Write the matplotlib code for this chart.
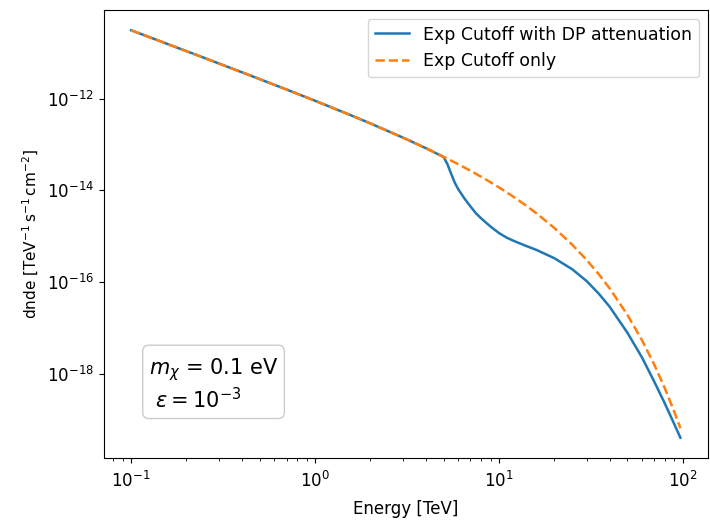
import numpy as np
import matplotlib
matplotlib.use("Agg")
import matplotlib.pyplot as plt
from matplotlib.ticker import LogLocator, NullLocator

# energies [TeV] and log10(dnde)
energy = [0.1, 0.15, 0.2, 0.3, 0.5, 0.7, 1, 1.5, 2, 3, 4, 5, 5.25, 5.5, 5.75, 6,
          6.5, 7, 7.5, 8, 9, 10, 11, 12, 14, 16, 20, 25, 30, 35, 40, 50, 60, 70,
          80, 90, 97]
log_cutoff = [-10.504, -10.771, -10.960, -11.229, -11.570, -11.798, -12.043,
              -12.329, -12.538, -12.846, -13.077, -13.266, -13.308, -13.350,
              -13.389, -13.428, -13.502, -13.572, -13.638, -13.702, -13.822,
              -13.934, -14.040, -14.140, -14.327, -14.501, -14.820, -15.183,
              -15.519, -15.836, -16.140, -16.720, -17.273, -17.808, -18.329,
              -18.840, -19.193]
log_dp = [-10.504, -10.771, -10.960, -11.229, -11.570, -11.798, -12.043,
          -12.329, -12.538, -12.846, -13.077, -13.270, -13.43, -13.64, -13.83,
          -13.97, -14.18, -14.35, -14.50, -14.61, -14.79, -14.93, -15.03,
          -15.10, -15.21, -15.30, -15.48, -15.72, -15.98, -16.26, -16.54,
          -17.11, -17.65, -18.18, -18.66, -19.11, -19.40]

plt.rcParams["font.size"] = 12

E = np.array(energy)
fig = plt.figure(figsize=(7.1, 5.2), dpi=100)
ax = fig.add_axes([0.146, 0.119, 0.851, 0.862])
ax.plot(E, 10 ** np.array(log_dp), "-", color="#1f77b4", lw=1.8,
        label="Exp Cutoff with DP attenuation")
ax.plot(E, 10 ** np.array(log_cutoff), "--", color="#ff7f0e", lw=1.8,
        label="Exp Cutoff only")
ax.set_xscale("log")
ax.set_yscale("log")
ax.yaxis.set_major_locator(LogLocator(base=100))
ax.yaxis.set_minor_locator(NullLocator())
ax.tick_params(axis="x", pad=6)
ax.set_xlabel("Energy [TeV]", labelpad=6)
ax.set_ylabel("dnde [$\\mathrm{TeV^{-1}\\,s^{-1}\\,cm^{-2}}$]", fontsize=11)
ax.legend(loc="upper right", fontsize=12.5)
ax.text(0.075, 0.165, "$m_\\chi$ = 0.1 eV\n $\\varepsilon = 10^{-3}$",
        transform=ax.transAxes, fontsize=15, va="center", ha="left",
        bbox=dict(boxstyle="round", facecolor="white", edgecolor="0.8"))

fig.savefig("out.png", dpi=100)
